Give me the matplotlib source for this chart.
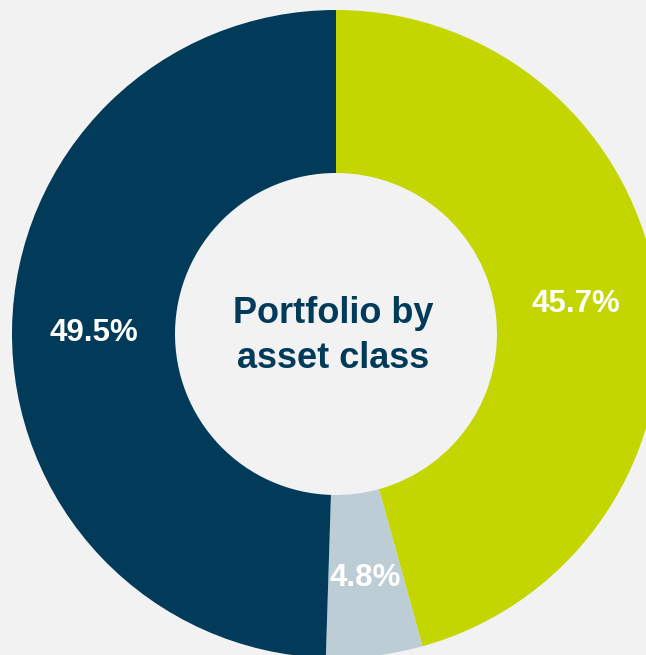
import matplotlib
matplotlib.use("Agg")
import matplotlib.pyplot as plt

# Portfolio split by asset class
labels = ["Asset A", "Asset B", "Asset C"]
shares = [45.7, 4.8, 49.5]
colors = ["#c4d600", "#bdcdd6", "#023b59"]

plt.rcParams['font.family'] = ['Liberation Sans', 'DejaVu Sans']

fig = plt.figure(figsize=(6.46, 6.55), dpi=100)
fig.patch.set_facecolor("#f2f2f2")
ax = fig.add_axes([0, 0, 1, 1])
ax.set_facecolor("#f2f2f2")

# axis units are pixels, centred on the ring
outer = 324
inner = 161
wedges, texts, autotexts = ax.pie(
	shares, colors=colors, radius=outer, startangle=90, counterclock=False,
	wedgeprops=dict(width=outer - inner, linewidth=0),
	autopct="%.1f%%", pctdistance=(outer + inner) / 2. / outer,
	textprops=dict(color="white", fontsize=22.5, fontweight="bold"))
for t in autotexts:
	x, y = t.get_position()
	t.set_position((x, y - 3))

ax.text(-3, -2, "Portfolio by\nasset class", ha="center", va="center",
	fontsize=26, fontweight="bold", color="#023b59", linespacing=1.35)

ax.set_xlim(-336, 646 - 336)
ax.set_ylim(-(655 - 334), 334)
ax.set_aspect("equal")
ax.axis("off")

fig.savefig("out.png", dpi=100, facecolor=fig.get_facecolor())
